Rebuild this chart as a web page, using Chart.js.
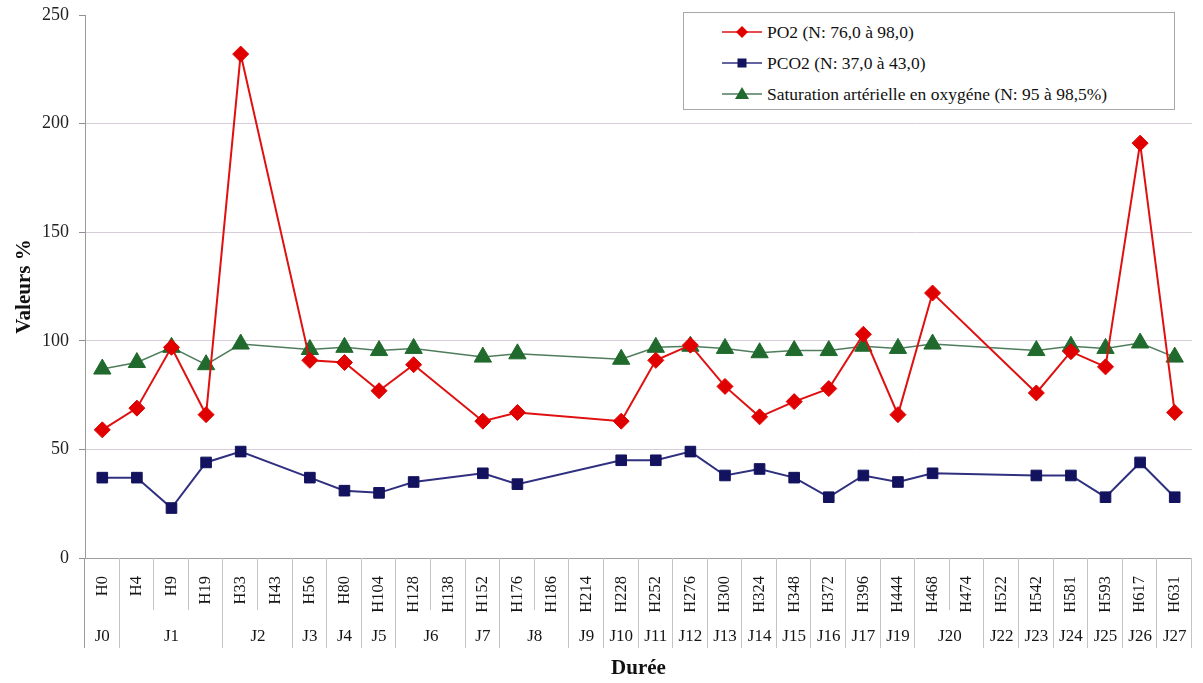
<!DOCTYPE html>
<html>
<head>
<meta charset="utf-8">
<script src="https://cdn.jsdelivr.net/npm/chart.js@4.4.1/dist/chart.umd.min.js"></script>
<style>
  body { margin: 0; background: #fff; }
  #wrap { position: relative; width: 1203px; height: 683px; }
  #legend {
    position: absolute; left: 683px; top: 12px; width: 492px; height: 98px;
    box-sizing: border-box; border: 1px solid #a8a8a8; background: #fff;
    font-family: 'Liberation Serif', serif; font-size: 17.5px; color: #111;
  }
  .item { position: absolute; left: 38px; height: 20px; display: flex; align-items: center; white-space: nowrap; }
  .item svg { margin-right: 5px; }
</style>
</head>
<body>
<div id="wrap">
  <canvas id="myChart" width="1203" height="683"></canvas>
  <div id="legend"></div>
</div>
<script>
'use strict';

// hours (first row of the axis)
let hours = ['H0', 'H4', 'H9', 'H19', 'H33', 'H43', 'H56', 'H80', 'H104', 'H128', 'H138', 'H152',
  'H176', 'H186', 'H214', 'H228', 'H252', 'H276', 'H300', 'H324', 'H348', 'H372', 'H396', 'H444',
  'H468', 'H474', 'H522', 'H542', 'H581', 'H593', 'H617', 'H631'];

// days (second row) and how many hours each one covers
let days = ['J0', 'J1', 'J2', 'J3', 'J4', 'J5', 'J6', 'J7', 'J8', 'J9', 'J10', 'J11', 'J12', 'J13',
  'J14', 'J15', 'J16', 'J17', 'J19', 'J20', 'J22', 'J23', 'J24', 'J25', 'J26', 'J27'];
let daySpans = [1, 3, 2, 1, 1, 1, 2, 1, 2, 1, 1, 1, 1, 1, 1, 1, 1, 1, 1, 2, 1, 1, 1, 1, 1, 1];

let po2 = [59, 69, 97, 66, 232, null, 91, 90, 77, 89, null, 63,
  67, null, null, 63, 91, 98, 79, 65, 72, 78, 103, 66,
  122, null, null, 76, 95, 88, 191, 67];

let pco2 = [37, 37, 23, 44, 49, null, 37, 31, 30, 35, null, 39,
  34, null, null, 45, 45, 49, 38, 41, 37, 28, 38, 35,
  39, null, null, 38, 38, 28, 44, 28];

let saturation = [87, 90, 97, 89, 98.5, null, 96, 97, 95.5, 96.5, null, 92.5,
  94, null, null, 91.5, 97, 97.5, 96.5, 94.5, 95.5, 95.5, 97.5, 96.5,
  98.5, null, null, 95.5, 97.5, 96.5, 99, 92.5];

let yTicks = [0, 50, 100, 150, 200, 250];

let serif = 'Liberation Serif';

const series = [
  { label: 'PO2 (N: 76,0 à 98,0)', data: po2, line: '#e01010', fill: '#e00000', marker: 'rectRot', radius: 8, width: 2 },
  { label: 'PCO2 (N: 37,0 à 43,0)', data: pco2, line: '#303080', fill: '#12125e', marker: 'rect', radius: 7.5, width: 2 },
  { label: 'Saturation artérielle en oxygéne (N: 95 à 98,5%)', data: saturation, line: '#4f7d5c', fill: '#1f6a2c', marker: 'triangle', radius: 10, width: 1.5 },
];

function markerSvg(s) {
  let shape = '';
  if (s.marker === 'rectRot') {
    shape = '<polygon points="20,4 26,10 20,16 14,10" fill="' + s.fill + '"/>';
  } else if (s.marker === 'rect') {
    shape = '<rect x="15.5" y="5.5" width="9" height="9" fill="' + s.fill + '"/>';
  } else {
    shape = '<polygon points="20,3 27,15 13,15" fill="' + s.fill + '"/>';
  }
  return '<svg width="40" height="20"><line x1="0" y1="10" x2="40" y2="10" stroke="' + s.line +
    '" stroke-width="1.5"/>' + shape + '</svg>';
}

function renderLegend() {
  let legend = document.getElementById('legend');
  for (let i = 0; i < series.length; i++) {
    let div = document.createElement('div');
    div.className = 'item';
    div.style.top = (9 + i * 31) + 'px';
    div.innerHTML = markerSvg(series[i]);
    let span = document.createElement('span');
    span.textContent = series[i].label;
    div.appendChild(span);
    legend.appendChild(div);
  }
}

// draws the hour/day table under the plot
const dayRows = {
  id: 'dayRows',
  afterDraw(chart) {
    let ctx = chart.ctx;
    let x = chart.scales.x;
    let area = chart.chartArea;
    let half = (x.getPixelForValue(1) - x.getPixelForValue(0)) / 2;
    let starts = [];
    let pos = 0;
    for (let i = 0; i < daySpans.length; i++) {
      starts.push(pos);
      pos += daySpans[i];
    }
    starts.push(pos);

    ctx.save();
    ctx.lineWidth = 1;
    for (let i = 0; i <= hours.length; i++) {
      let px = Math.round(x.getPixelForValue(i) - half) - 0.5;
      let isDay = starts.includes(i);
      ctx.strokeStyle = i === 0 ? '#9a9a9a' : '#c4c4c4';
      ctx.beginPath();
      ctx.moveTo(px, area.bottom);
      ctx.lineTo(px, area.bottom + (isDay ? 90 : 52));
      ctx.stroke();
    }

    ctx.fillStyle = '#151515';
    ctx.font = '17px "' + serif + '"';
    ctx.textAlign = 'center';
    ctx.textBaseline = 'middle';
    for (let i = 0; i < days.length; i++) {
      let first = x.getPixelForValue(starts[i]);
      let last = x.getPixelForValue(starts[i] + daySpans[i] - 1);
      ctx.fillText(days[i], (first + last) / 2, area.bottom + 79);
    }
    ctx.restore();
  },
};

function renderChart() {
  let datasets = [];
  for (let i = 0; i < series.length; i++) {
    let s = series[i];
    datasets.push({
      label: s.label,
      data: s.data,
      borderColor: s.line,
      borderWidth: s.width,
      backgroundColor: s.fill,
      pointBackgroundColor: s.fill,
      pointBorderColor: s.fill,
      pointBorderWidth: 1,
      pointStyle: s.marker,
      pointRadius: s.radius,
      pointHoverRadius: s.radius,
      spanGaps: true,
      tension: 0,
    });
  }

  const config = {
    type: 'line',
    data: { labels: hours, datasets: datasets },
    options: {
      responsive: false,
      animation: false,
      layout: { padding: { top: 15, right: 0, left: 0, bottom: 0 } },
      plugins: {
        legend: { display: false },
        tooltip: { enabled: false },
      },
      scales: {
        x: {
          type: 'category',
          offset: true,
          grid: { display: false },
          border: { display: false },
          ticks: {
            autoSkip: false,
            maxRotation: 90,
            minRotation: 90,
            padding: 10,
            color: '#151515',
            font: { family: serif, size: 16.5 },
          },
          title: {
            display: true,
            text: 'Durée',
            color: '#111',
            font: { family: serif, size: 21, weight: 'bold' },
            padding: { top: 0, bottom: 2 },
          },
          afterFit(scale) {
            scale.height = 125;
            scale.paddingLeft = 0;
            scale.paddingRight = 0;
          },
        },
        y: {
          min: 0,
          max: 250,
          afterBuildTicks(scale) {
            scale.ticks = yTicks.map(function (v) { return { value: v }; });
          },
          grid: {
            color: function (c) {
              if (c.tick.value === 0) return '#a0a0a0';
              if (c.tick.value === 250) return 'rgba(0,0,0,0)';
              return '#d6cdd8';
            },
            tickColor: '#909090',
            tickLength: 6,
          },
          border: { display: true, color: '#9a9a9a' },
          ticks: {
            padding: 10,
            color: '#222',
            font: { family: serif, size: 18 },
          },
          title: {
            display: true,
            text: 'Valeurs %',
            color: '#111',
            font: { family: serif, size: 21, weight: 'bold' },
            padding: { top: 12, bottom: 0 },
          },
          afterFit(scale) {
            scale.width = 85;
            scale.paddingTop = 0;
            scale.paddingBottom = 0;
          },
        },
      },
    },
    plugins: [dayRows],
  };

  let chartCanvas = document.getElementById('myChart').getContext('2d');
  const myChart = new Chart(chartCanvas, config);
}

renderLegend();
renderChart();
</script>
</body>
</html>
